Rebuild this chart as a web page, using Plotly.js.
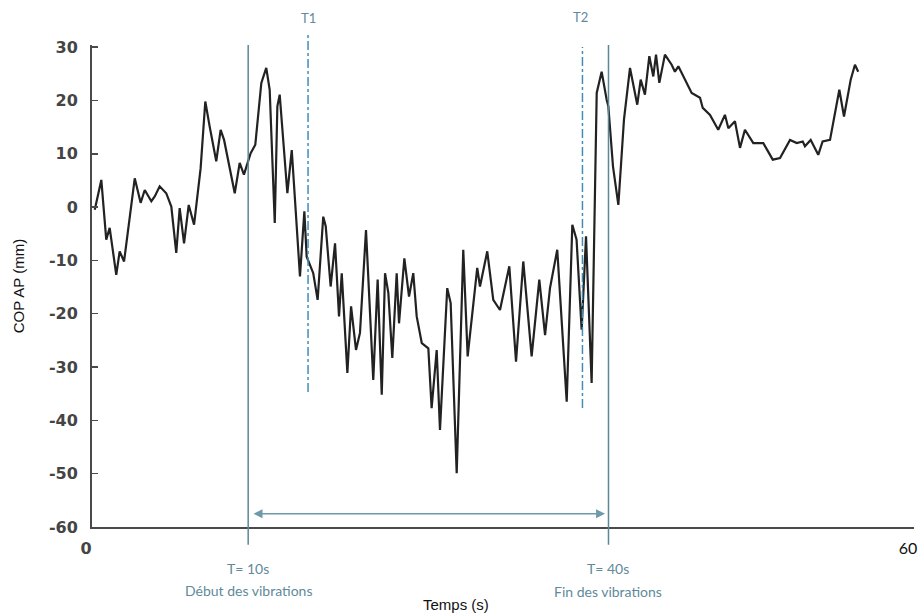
<!DOCTYPE html>
<html>
<head>
<meta charset="utf-8">
<script src="https://cdn.plot.ly/plotly-3.0.1.min.js"></script>
<style>html,body{margin:0;padding:0;background:#fff;}#chart{width:921px;height:614px;}</style>
</head>
<body>
<div id="chart"></div>
<script>
// Time (s) and COP AP (mm)
const times = [0.20,0.68,1.04,1.29,1.77,2.02,2.34,3.12,3.55,3.85,4.33,4.58,4.94,5.42,5.79,6.15,6.40,6.72,7.06,7.45,
7.93,8.27,8.59,9.07,9.39,9.64,10.42,10.78,11.09,11.58,11.92,12.36,12.72,12.97,13.34,13.53,13.70,14.26,14.58,15.18,
15.50,15.67,16.15,16.47,16.88,17.06,17.42,17.74,18.03,18.23,18.64,18.91,19.27,19.56,20.00,20.53,20.85,21.15,21.39,21.63,
21.92,22.24,22.41,22.80,23.14,23.45,23.70,24.07,24.55,24.79,25.16,25.40,25.93,26.18,26.62,27.10,27.42,27.72,28.12,28.32,
28.64,28.85,29.29,29.78,30.46,30.95,31.48,32.09,32.65,33.07,33.43,33.96,34.65,35.06,35.37,35.74,36.06,36.47,36.84,37.20,
37.57,37.69,38.03,38.42,38.83,39.27,39.80,40.05,40.36,40.68,40.97,41.17,41.41,41.82,42.31,42.55,42.80,43.36,43.77,44.38,
44.58,45.11,45.71,46.20,46.45,46.93,47.30,47.66,48.27,49.00,49.69,50.22,50.95,51.44,51.88,52.04,52.46,53.01,53.33,53.87,
54.55,54.89,55.38,55.69,55.93];
const cop = [-0.5,5.1,-6.1,-3.9,-12.7,-8.3,-10.2,5.4,0.8,3.2,1.1,2.0,3.9,2.6,0.1,-8.6,-0.2,-6.8,0.4,-3.3,
7.3,19.8,15.1,8.6,14.5,12.6,2.6,8.3,6.1,10.1,11.7,23.3,26.1,22.0,-3.0,18.9,21.1,2.6,10.7,-13.0,
-0.8,-9.3,-12.4,-17.4,-1.8,-3.6,-14.9,-6.8,-20.5,-12.4,-31.1,-18.6,-26.8,-23.6,-4.3,-32.4,-13.6,-35.2,-12.4,-16.1,
-28.3,-12.4,-21.8,-9.6,-16.8,-12.4,-20.5,-25.5,-26.5,-37.7,-26.8,-41.8,-15.2,-18.0,-49.9,-8.0,-28.0,-20.5,-11.4,-14.9,
-10.5,-8.3,-17.4,-19.3,-11.1,-29.0,-10.2,-28.0,-13.6,-24.0,-15.2,-8.0,-36.5,-3.3,-6.1,-23.0,-5.5,-33.0,21.4,25.4,
20.1,18.9,7.6,0.4,16.4,26.1,19.2,23.9,21.1,28.3,24.5,28.6,23.3,28.6,26.7,25.4,26.4,23.6,21.4,20.5,
18.6,17.3,14.5,17.3,14.8,16.1,11.1,14.5,12.0,12.0,8.9,9.2,12.6,12.0,12.3,11.4,12.6,9.8,12.3,12.6,
22.0,17.0,23.9,26.7,25.4];

const yTickVals = [30,20,10,0,-10,-20,-30,-40,-50,-60];
const yTickText = ["30","20","10","0","-10","-20","-30","-40","-50","-60"];
const xTickVals = [0,60];
const xTickText = ["<b>0</b>","<span style=\"font-family:Lato;font-weight:normal;color:#111\">60</span>"];

const xRange = [0,60];
const vibStart = 11.4, vibEnd = 37.7;   // vertical marker lines (as drawn)
const t1 = 15.77, t2 = 35.8;
const arrowY = -57.5;

const teal = '#5b8798';
const dashBlue = '#3f8fba';
const labelCol = '#5f8a9b';

function px(t){ return (t - xRange[0])/(xRange[1]-xRange[0]); }

const trace = {
  x: times, y: cop, type:'scatter', mode:'lines',
  line:{color:'#222', width:2.2}, hoverinfo:'skip'
};

function lab(x, y, text, size, color, family){
  return {xref:'paper', yref:'paper', x:x, y:y, text:text, showarrow:false,
          xanchor:'center', yanchor:'middle', font:{family:family||'Lato', size:size, color:color}};
}

const layout = {
  width:921, height:614,
  margin:{l:92, r:7, t:45, b:87},
  paper_bgcolor:'#fff', plot_bgcolor:'#fff',
  showlegend:false,
  font:{family:'"Liberation Sans", Arial, sans-serif', color:'#111'},
  xaxis:{
    range:xRange, showgrid:false, zeroline:false,
    showline:true, linecolor:'#4a4a4a', linewidth:2,
    ticks:'', tickvals:xTickVals, ticktext:xTickText,
    tickfont:{family:'"DejaVu Sans", sans-serif', size:16, color:'#444'},
    ticklabelstandoff:6, ticklabeloverflow:'allow', ticklabelshift:-6
  },
  yaxis:{
    range:[-60,30.4], showgrid:false, zeroline:false,
    showline:true, linecolor:'#4a4a4a', linewidth:2,
    ticks:'inside', ticklen:6, tickwidth:1.5, tickcolor:'#4a4a4a',
    tickvals:yTickVals, ticktext:yTickText,
    tickfont:{family:'"DejaVu Sans", sans-serif', size:16, color:'#444', weight:'bold'},
    ticklabelstandoff:9,
    title:{text:'COP AP (mm)', font:{size:15, color:'#111'}, standoff:21}
  },
  shapes:[
    {type:'line', xref:'paper', yref:'paper', x0:px(vibStart), x1:px(vibStart), y0:-0.037, y1:1.0, line:{color:teal, width:1.5}},
    {type:'line', xref:'paper', yref:'paper', x0:px(vibEnd), x1:px(vibEnd), y0:-0.037, y1:1.0, line:{color:teal, width:1.5}},
    {type:'line', xref:'paper', yref:'paper', x0:px(t1), x1:px(t1), y0:0.28, y1:1.027, line:{color:dashBlue, width:1.5, dash:'dashdot'}},
    {type:'line', xref:'paper', yref:'paper', x0:px(t2), x1:px(t2), y0:0.247, y1:0.996, line:{color:dashBlue, width:1.5, dash:'dashdot'}}
  ],
  annotations:[
    {xref:'x', yref:'y', x:vibEnd-0.25, y:arrowY, axref:'x', ayref:'y', ax:vibStart+0.28, ay:arrowY,
     text:'', showarrow:true, arrowside:'end+start', arrowhead:2, startarrowhead:2, arrowsize:1.2, startarrowsize:1.2,
     arrowwidth:1.5, arrowcolor:'#6f9aa9'},
    lab(px(t1), 1.056, 'T1', 13, labelCol),
    lab(px(t2)-0.002, 1.058, 'T2', 13, labelCol),
    lab(px(vibStart), -0.087, 'T= 10s', 14, labelCol),
    lab(px(vibStart), -0.131, 'Début des vibrations', 14, labelCol),
    lab(px(vibEnd), -0.087, 'T= 40s', 14, labelCol),
    lab(px(vibEnd), -0.133, 'Fin des vibrations', 14, labelCol),
    lab(0.443, -0.16, 'Temps (s)', 15, '#111', '"Liberation Sans", Arial, sans-serif')
  ]
};

Plotly.newPlot('chart', [trace], layout, {displayModeBar:false, staticPlot:true});
</script>
</body>
</html>
